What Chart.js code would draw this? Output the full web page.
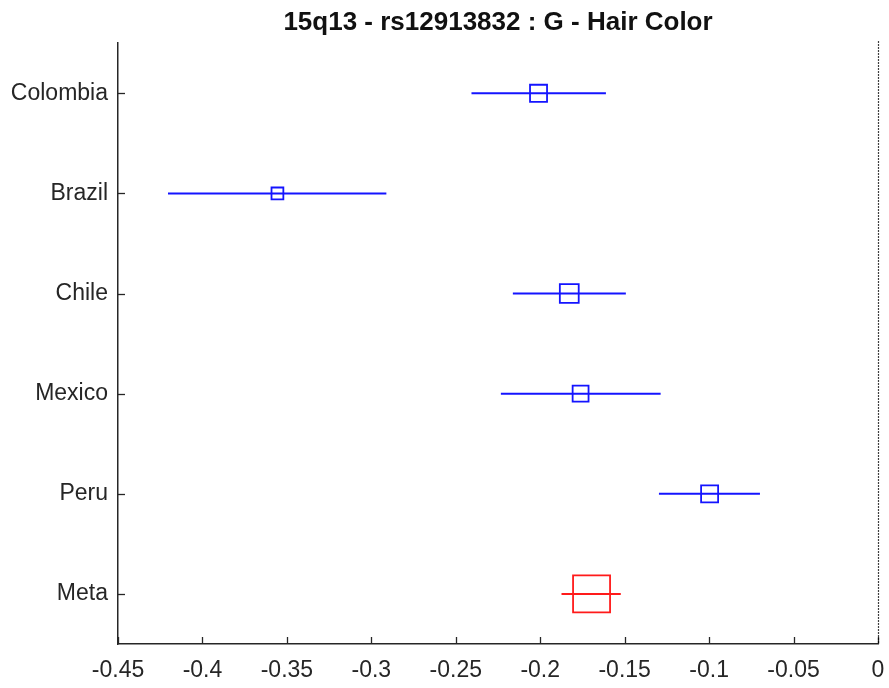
<!DOCTYPE html>
<html>
<head>
<meta charset="utf-8">
<script src="https://cdn.jsdelivr.net/npm/chart.js@4/dist/chart.umd.min.js"></script>
<style>
  html, body { margin: 0; padding: 0; background: #fff; }
  #wrap { width: 889px; height: 688px; }
</style>
</head>
<body>
<div id="wrap"><canvas id="c" width="889" height="688"></canvas></div>
<script>
// ---- data ----
const studies  = ['Colombia', 'Brazil', 'Chile', 'Mexico', 'Peru', 'Meta'];
const estimate = [-0.2010, -0.3556, -0.1828, -0.1761, -0.0997, -0.1696];
const ciLow    = [-0.2407, -0.4204, -0.2162, -0.2233, -0.1297, -0.1874];
const ciHigh   = [-0.1611, -0.2911, -0.1493, -0.1287, -0.0699, -0.1523];
const weights  = [0.46, 0.32, 0.51, 0.43, 0.46, 1.0];
const xTicks   = [-0.45, -0.4, -0.35, -0.3, -0.25, -0.2, -0.15, -0.1, -0.05, 0];
const titleText = '15q13 - rs12913832 : G - Hair Color';

// ---- styling ----
const BLUE = '#1414ff', RED = '#ff1a1a', AXIS = '#262626';
const FONT = '"Liberation Sans", Arial, sans-serif';
const MAX_BOX = 37; // px side of largest box
const colorFor = i => (studies[i] === 'Meta' ? RED : BLUE);

const datasets = [];
studies.forEach((s, i) => {
  datasets.push({
    type: 'scatter',
    label: s + ' CI',
    data: [{ x: ciLow[i], y: i + 1 }, { x: ciHigh[i], y: i + 1 }],
    showLine: true,
    borderColor: colorFor(i),
    borderWidth: 2,
    pointRadius: 0,
    pointHoverRadius: 0
  });
});
datasets.push({
  type: 'scatter',
  label: 'Estimate',
  data: estimate.map((v, i) => ({ x: v, y: i + 1 })),
  pointStyle: 'rect',
  pointRadius: weights.map(w => (w * MAX_BOX) / Math.SQRT2),
  pointBorderColor: studies.map((s, i) => colorFor(i)),
  pointBackgroundColor: 'rgba(0,0,0,0)',
  pointBorderWidth: 1.8,
  pointHoverRadius: weights.map(w => (w * MAX_BOX) / Math.SQRT2)
});

const axisDecor = {
  id: 'axisDecor',
  afterDatasetsDraw(chart) {
    const { ctx, chartArea: a, scales: { x, y } } = chart;
    ctx.save();
    ctx.strokeStyle = AXIS;
    ctx.lineWidth = 1.3;
    // inward ticks
    x.ticks.forEach(t => {
      const px = Math.round(x.getPixelForValue(t.value)) + 0.5;
      ctx.beginPath(); ctx.moveTo(px, a.bottom); ctx.lineTo(px, a.bottom - 7); ctx.stroke();
    });
    y.ticks.forEach(t => {
      const py = Math.round(y.getPixelForValue(t.value)) + 0.5;
      ctx.beginPath(); ctx.moveTo(a.left, py); ctx.lineTo(a.left + 7, py); ctx.stroke();
    });
    // dotted zero line
    const zx = Math.round(x.getPixelForValue(0)) + 0.5;
    ctx.strokeStyle = '#000';
    ctx.lineWidth = 1.2;
    ctx.setLineDash([1.5, 1.5]);
    ctx.beginPath(); ctx.moveTo(zx, a.top - 2); ctx.lineTo(zx, a.bottom); ctx.stroke();
    ctx.restore();
  }
};

new Chart(document.getElementById('c'), {
  type: 'scatter',
  data: { datasets },
  options: {
    responsive: false,
    animation: false,
    devicePixelRatio: 1,
    layout: { autoPadding: false, padding: { left: 0, right: 11, top: 0, bottom: 0 } },
    plugins: {
      legend: { display: false },
      tooltip: { enabled: false },
      title: {
        display: true,
        fullSize: false,
        text: titleText,
        color: '#111',
        font: { family: FONT, size: 26, weight: 'bold' },
        padding: { top: 7, bottom: 5 }
      }
    },
    scales: {
      x: {
        type: 'linear',
        min: -0.45,
        max: 0,
        afterBuildTicks: s => { s.ticks = xTicks.map(v => ({ value: v })); },
        afterFit: s => { s.height = 44; s.paddingLeft = 0; s.paddingRight = 0; },
        ticks: {
          autoSkip: false,
          maxRotation: 0,
          padding: 13,
          color: AXIS,
          font: { family: FONT, size: 23 },
          callback: v => (Math.abs(v) < 1e-9 ? '0' : String(+v.toFixed(2)))
        },
        grid: { display: true, drawOnChartArea: false, drawTicks: false },
        border: { display: true, color: AXIS, width: 1.5 }
      },
      y: {
        type: 'linear',
        reverse: true,
        min: 0.5,
        max: 6.5,
        afterBuildTicks: s => { s.ticks = studies.map((_, i) => ({ value: i + 1 })); },
        afterFit: s => { s.width = 118; s.paddingTop = 0; s.paddingBottom = 0; },
        ticks: {
          autoSkip: false,
          padding: 10,
          color: AXIS,
          font: { family: FONT, size: 23 },
          callback: v => studies[Math.round(v) - 1] || ''
        },
        grid: { display: true, drawOnChartArea: false, drawTicks: false },
        border: { display: true, color: AXIS, width: 1.5 }
      }
    }
  },
  plugins: [axisDecor]
});
</script>
</body>
</html>
